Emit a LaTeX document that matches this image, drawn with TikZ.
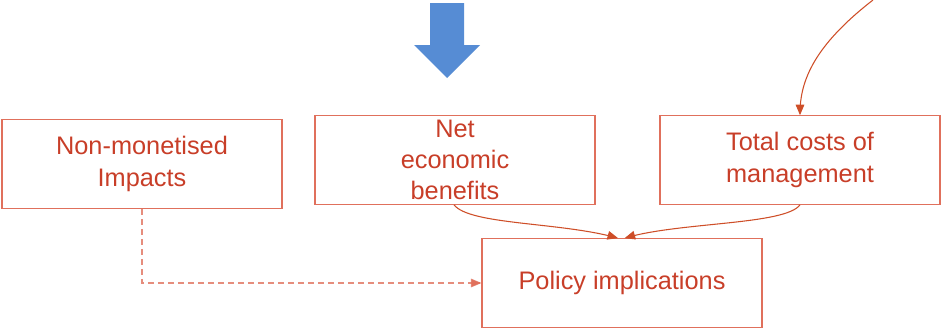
\documentclass[tikz,border=0pt]{standalone}
\usepackage{fontspec}
\setmainfont{Liberation Sans}
\usetikzlibrary{arrows}

\definecolor{boxred}{RGB}{224,112,92}
\definecolor{textred}{RGB}{200,62,40}
\definecolor{linered}{RGB}{206,78,40}
\definecolor{arrowblue}{RGB}{86,140,212}

\begin{document}
\begin{tikzpicture}[x=0.75pt,y=-0.75pt,
  caja/.style={draw=boxred,thick,rectangle,minimum width=210pt,minimum height=66.5pt,
    inner sep=0pt,align=center,text=textred,font=\fontsize{19}{23.5}\selectfont},
  flecha/.style={linered,thick,-triangle 45},
  punteada/.style={boxred,thick,dash pattern=on 4.5pt off 3pt,-triangle 45,draw opacity=0.8}]
\useasboundingbox (0,0) rectangle (942,332);

%flecha azul de arriba
\fill [arrowblue] (430,3) -- (464,3) -- (464,45) -- (480,45) -- (447,78) -- (414,45) -- (430,45) -- cycle;

%cajas de arriba
\node [caja] (nomon) at (142,164) {Non-monetised\\Impacts};
\node [caja] (neto) at (455,160) {Net\\economic\\benefits};
\node [caja] (costos) at (800,160) {Total costs of\\management};

%caja de abajo
\node [caja] (politica) at (622,283) {Policy implications};

%curva que entra por arriba a la derecha
\coordinate (fuente) at (873,0);
\draw [flecha] (fuente) .. controls (815,45) and (800,80) .. (costos.north);

%curvas hacia la caja de abajo
\draw [flecha] ([xshift=-0.75pt]neto.south) .. controls (470,225) and (560,222) .. ([xshift=-3pt]politica.north);
\draw [flecha] (costos.south) .. controls (785,225) and (680,222) .. ([xshift=2pt]politica.north);

%linea punteada
\draw [punteada] (nomon.south) |- (politica.west);
\end{tikzpicture}
\end{document}
